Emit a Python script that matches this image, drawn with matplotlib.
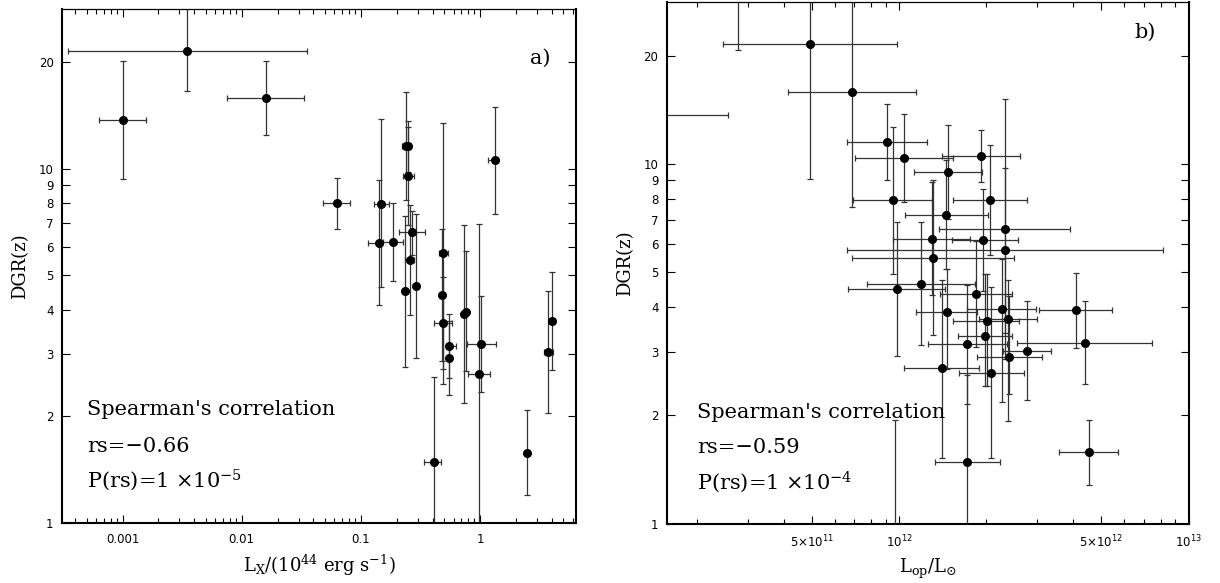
import numpy as np
import matplotlib
matplotlib.use("Agg")
import matplotlib.pyplot as plt
from matplotlib.ticker import FixedLocator, NullLocator, LogLocator, NullFormatter

# ---- panel a: DGR vs L_X (10^44 erg/s) ----
lx = [0.001, 3.49e-3, 0.016, 0.0628, 0.148, 0.141, 0.186, 0.239, 0.247, 0.248,
      0.270, 0.259, 0.292, 0.234, 0.492, 0.485, 0.492, 0.552, 0.552, 0.734,
      0.767, 1.03, 0.986, 0.413, 2.48, 3.73, 4.03, 1.33]
lx_lo = [6.3e-4, 3.49e-4, 7.57e-3, 0.048, 0.130, 0.114, 0.155, 0.222, 0.232, 0.2255,
         0.211, 0.237, 0.280, 0.228, 0.449, 0.470, 0.415, 0.521, 0.540, 0.720,
         0.750, 0.778, 0.788, 0.336, 2.45, 3.42, 3.83, 1.18]
lx_hi = [1.57e-3, 0.0352, 0.0336, 0.0813, 0.171, 0.147, 0.226, 0.256, 0.262, 0.277,
         0.345, 0.280, 0.300, 0.240, 0.544, 0.500, 0.581, 0.628, 0.565, 0.750,
         0.780, 1.37, 1.22, 0.469, 2.51, 4.11, 4.27, 1.41]
dgr_a = [13.7, 21.5, 15.8, 7.98, 7.96, 6.17, 6.19, 11.56, 11.56, 9.51,
         6.63, 5.51, 4.65, 4.50, 5.77, 4.39, 3.67, 3.16, 2.92, 3.89,
         3.95, 3.19, 2.64, 1.49, 1.58, 3.03, 3.71, 10.56]
dgr_a_lo = [9.37, 16.5, 12.45, 6.75, 4.63, 4.11, 4.81, 8.14, 9.8, 6.92,
            5.7, 3.85, 2.92, 2.75, 2.47, 2.86, 2.72, 2.56, 2.29, 2.18,
            2.68, 2.34, 0.9, 0.857, 1.2, 2.04, 2.71, 7.46]
dgr_a_hi = [20.1, 32.0, 20.1, 9.39, 13.76, 9.31, 8.0, 16.43, 13.6, 13.12,
            7.6, 7.88, 7.45, 7.37, 13.46, 6.74, 4.94, 3.89, 3.72, 6.92,
            5.87, 4.36, 6.96, 2.59, 2.09, 4.50, 5.11, 14.9]

# ---- panel b: DGR vs L_op (L_sun) ----
lop = [1.2e11, 2.78e11, 9.64e11, 4.93e11, 6.88e11, 9.09e11, 1.038e12, 9.51e11, 1.477e12, 1.457e12,
       1.916e12, 2.063e12, 2.32e12, 2.32e12, 1.30e12, 1.946e12, 1.307e12, 9.82e11, 1.191e12, 1.846e12,
       2.26e12, 2.37e12, 2.01e12, 1.462e12, 1.987e12, 1.718e12, 2.77e12, 2.40e12, 1.405e12, 2.075e12,
       1.72e12, 4.08e12, 4.37e12, 4.51e12]
lop_lo = [0.6e11, 2.6e11, 9.0e11, 2.47e11, 4.12e11, 6.63e11, 7.03e11, 6.95e11, 1.127e12, 1.049e12,
          1.405e12, 1.54e12, 1.378e12, 6.63e11, 9.56e11, 1.52e12, 6.87e11, 6.68e11, 7.77e11, 1.386e12,
          1.72e12, 1.88e12, 1.54e12, 1.142e12, 1.60e12, 1.262e12, 2.29e12, 1.856e12, 1.043e12, 1.61e12,
          1.331e12, 3.05e12, 2.56e12, 3.57e12]
lop_hi = [2.56e11, 3.0e11, 1.03e12, 9.82e11, 1.145e12, 1.246e12, 1.54e12, 1.30e12, 1.94e12, 2.02e12,
          2.62e12, 2.76e12, 3.9e12, 8.13e12, 1.76e12, 2.58e12, 2.5e12, 1.442e12, 1.83e12, 2.45e12,
          2.97e12, 3.0e12, 2.60e12, 1.856e12, 2.46e12, 2.36e12, 3.35e12, 3.11e12, 1.89e12, 2.69e12,
          2.23e12, 5.45e12, 7.5e12, 5.68e12]
dgr_b = [13.7, 35.0, 0.75, 21.5, 15.8, 11.5, 10.39, 7.93, 9.5, 7.22,
         10.52, 7.93, 6.6, 5.76, 6.18, 6.14, 5.48, 4.49, 4.63, 4.36,
         3.95, 3.70, 3.66, 3.87, 3.33, 3.15, 3.02, 2.91, 2.71, 2.63,
         1.486, 3.92, 3.18, 1.58]
dgr_b_lo = [10.5, 20.7, 0.4, 9.11, 7.6, 9.01, 7.84, 4.96, 7.05, 5.12,
            8.91, 5.58, 2.87, 3.4, 4.32, 4.43, 3.34, 2.92, 3.14, 3.1,
            2.18, 1.93, 2.41, 2.70, 2.41, 2.15, 2.21, 2.3, 1.525, 1.525,
            0.85, 3.08, 2.44, 1.28]
dgr_b_hi = [17.8, 60.0, 1.94, 50.0, 32.8, 14.7, 13.75, 12.67, 12.8, 10.24,
            12.41, 11.27, 15.2, 9.75, 8.91, 8.5, 9.0, 6.89, 6.9, 6.11,
            5.46, 4.77, 4.96, 5.12, 4.96, 4.62, 4.16, 4.3, 4.75, 4.54,
            2.59, 4.99, 4.16, 1.94]

ytick_vals = [1, 2, 3, 4, 5, 6, 7, 8, 9, 10, 20]

SERIF = "DejaVu Serif"
SANS = "DejaVu Sans"
TXT = 15

fig = plt.figure(figsize=(12.2, 5.83), dpi=100)
ax1 = fig.add_axes([0.0508, 0.1029, 0.4213, 0.8817])
ax2 = fig.add_axes([0.5465, 0.1017, 0.4278, 0.8949])


def draw(ax, x, xlo, xhi, y, ylo, yhi):
    x = np.array(x); y = np.array(y)
    xerr = [x - np.array(xlo), np.array(xhi) - x]
    yerr = [y - np.array(ylo), np.array(yhi) - y]
    ax.errorbar(x, y, xerr=xerr, yerr=yerr, fmt='o', color='black', ms=5.5,
                ecolor='#333333', elinewidth=0.9, capsize=2.2, capthick=0.9)
    ax.set_xscale('log')
    ax.set_yscale('log')
    ax.set_ylim(1, 28.2)
    ax.yaxis.set_major_locator(FixedLocator(ytick_vals))
    ax.yaxis.set_minor_locator(NullLocator())
    ax.set_yticklabels([str(v) for v in ytick_vals], fontfamily=SANS, fontsize=8.5)
    ax.tick_params(which='both', direction='in', top=True, right=True, width=0.8)
    ax.tick_params(axis='y', which='major', length=6, pad=6)
    ax.tick_params(axis='x', which='major', length=6, pad=7)
    ax.tick_params(axis='x', which='minor', length=3.5)
    for s in ['left', 'bottom', 'right']:
        ax.spines[s].set_linewidth(1.5)
    ax.spines['top'].set_linewidth(0.9)
    ax.set_ylabel('DGR(z)', fontfamily=SERIF, fontsize=13, labelpad=7)


# panel a
draw(ax1, lx, lx_lo, lx_hi, dgr_a, dgr_a_lo, dgr_a_hi)
ax1.set_xlim(3.1e-4, 6.4)
ax1.xaxis.set_major_locator(FixedLocator([1e-3, 1e-2, 1e-1, 1]))
ax1.xaxis.set_minor_locator(LogLocator(base=10, subs=np.arange(2, 10)))
ax1.xaxis.set_minor_formatter(NullFormatter())
ax1.set_xticklabels(['0.001', '0.01', '0.1', '1'], fontfamily=SANS, fontsize=8.5)
ax1.set_xlabel(r'L$_{\rm X}$/(10$^{44}$ erg s$^{-1}$)', fontfamily=SERIF, fontsize=13,
               math_fontfamily='dejavuserif', labelpad=5)
ax1.text(0.93, 0.905, 'a)', transform=ax1.transAxes, fontfamily=SERIF, fontsize=15,
         ha='center', va='center')
ax1.text(0.0486, 0.22, "Spearman's correlation", transform=ax1.transAxes,
         fontfamily=SERIF, fontsize=TXT, va='center')
ax1.text(0.0486, 0.148, 'rs=\u22120.66', transform=ax1.transAxes,
         fontfamily=SERIF, fontsize=TXT, va='center')
ax1.text(0.0486, 0.084, r'P(rs)=1 $\times$10$^{-5}$', transform=ax1.transAxes,
         fontfamily=SERIF, fontsize=TXT, va='center', math_fontfamily='dejavuserif')

# panel b
draw(ax2, lop, lop_lo, lop_hi, dgr_b, dgr_b_lo, dgr_b_hi)
ax2.set_xlim(1.575e11, 1e13)
ax2.xaxis.set_major_locator(FixedLocator([5e11, 1e12, 5e12, 1e13]))
ax2.xaxis.set_minor_locator(LogLocator(base=10, subs=[2, 3, 4, 6, 7, 8, 9]))
ax2.xaxis.set_minor_formatter(NullFormatter())
ax2.set_xticklabels([r'5$\times$10$^{11}$', r'10$^{12}$', r'5$\times$10$^{12}$', r'10$^{13}$'],
                    fontfamily=SANS, fontsize=8.5)
ax2.set_xlabel(r'L$_{\rm op}$/L$_{\odot}$', fontfamily=SERIF, fontsize=13,
               math_fontfamily='dejavuserif', labelpad=5)
ax2.text(0.916, 0.9425, 'b)', transform=ax2.transAxes, fontfamily=SERIF, fontsize=15,
         ha='center', va='center')
ax2.text(0.058, 0.214, "Spearman's correlation", transform=ax2.transAxes,
         fontfamily=SERIF, fontsize=TXT, va='center')
ax2.text(0.058, 0.147, 'rs=\u22120.59', transform=ax2.transAxes,
         fontfamily=SERIF, fontsize=TXT, va='center')
ax2.text(0.058, 0.08, r'P(rs)=1 $\times$10$^{-4}$', transform=ax2.transAxes,
         fontfamily=SERIF, fontsize=TXT, va='center', math_fontfamily='dejavuserif')

fig.savefig('out.png', dpi=100)
